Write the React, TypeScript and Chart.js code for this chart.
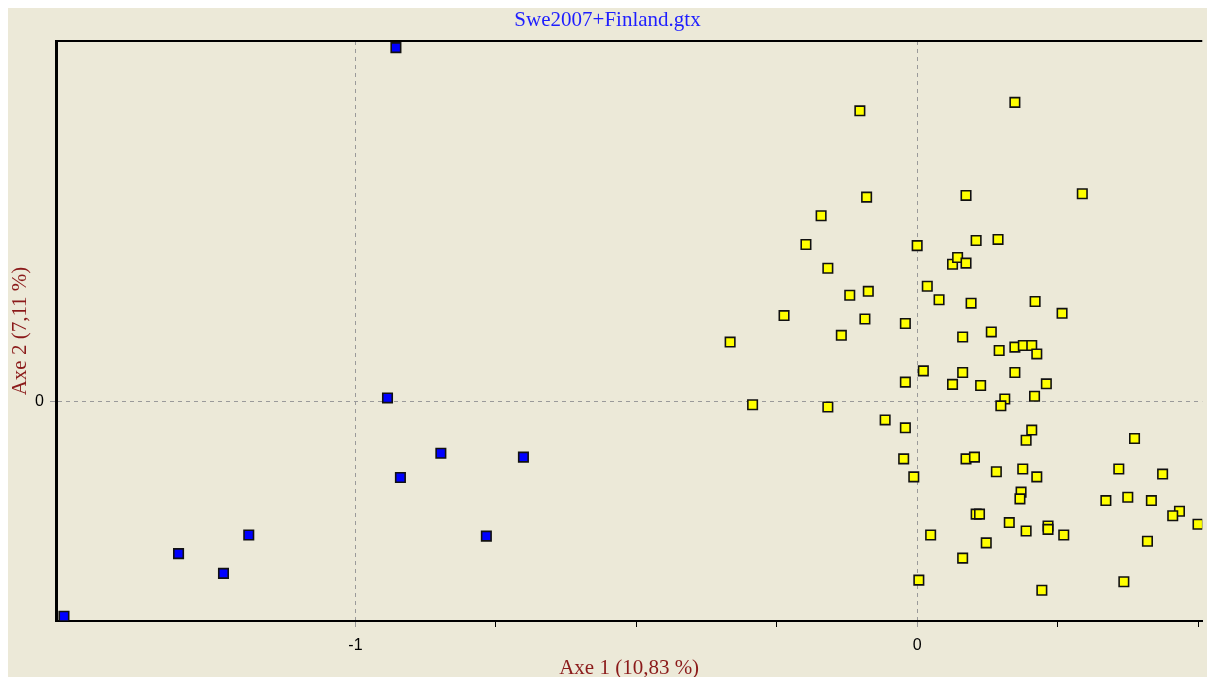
import React, { useEffect, useRef } from "react";
import { Chart, registerables } from "chart.js";

Chart.register(...registerables);

const chartTitle = "Swe2007+Finland.gtx";
const xAxisTitle = "Axe 1 (10,83 %)";
const yAxisTitle = "Axe 2 (7,11 %)";

const xTickValues = [-1, -0.75, -0.5, -0.25, 0, 0.25, 0.5];
const yTickValues = [0];

const xRange = [-1.5332, 0.5076];
const yRange = [-0.3895, 0.6388];

const blueX = [-0.928, -0.943, -0.848, -0.701, -0.92, -0.767, -1.19, -1.315, -1.235, -1.519];
const blueY = [0.627, 0.006, -0.092, -0.099, -0.135, -0.239, -0.237, -0.27, -0.305, -0.381];

const yellowX = [
  -0.102, 0.174, -0.09, 0.087, 0.294, -0.171, -0.198, 0.0, 0.105, 0.144,
  0.063, 0.072, 0.087, -0.159, 0.018, -0.12, -0.087, 0.039, 0.096, 0.21,
  0.258, -0.237, -0.093, -0.021, 0.132, -0.135, 0.081, -0.333, 0.146, 0.174,
  0.189, 0.204, 0.213, 0.011, 0.081, 0.174, -0.021, 0.063, 0.113, 0.23,
  0.156, 0.149, 0.209, -0.057, -0.021, 0.204, 0.194, 0.387, -0.024, 0.087,
  0.102, 0.141, 0.188, 0.213, -0.006, 0.359, 0.437, 0.185, 0.183, 0.336,
  0.375, 0.417, 0.467, 0.455, 0.5, 0.105, 0.111, 0.164, 0.194, 0.233,
  0.233, 0.261, 0.024, 0.123, 0.41, 0.081, 0.003, 0.368, 0.222, -0.293,
  -0.159,
];
const yellowY = [
  0.515, 0.53, 0.362, 0.365, 0.368, 0.329, 0.278, 0.276, 0.285, 0.287,
  0.243, 0.255, 0.245, 0.236, 0.204, 0.188, 0.195, 0.18, 0.174, 0.177,
  0.156, 0.152, 0.146, 0.138, 0.123, 0.117, 0.114, 0.105, 0.09, 0.096,
  0.099, 0.099, 0.084, 0.054, 0.051, 0.051, 0.034, 0.03, 0.028, 0.031,
  0.004, -0.008, 0.009, -0.033, -0.047, -0.051, -0.069, -0.066, -0.102, -0.102,
  -0.099, -0.125, -0.12, -0.134, -0.134, -0.12, -0.129, -0.161, -0.173, -0.176,
  -0.17, -0.176, -0.195, -0.203, -0.218, -0.2, -0.2, -0.215, -0.23, -0.221,
  -0.227, -0.237, -0.237, -0.251, -0.248, -0.278, -0.317, -0.32, -0.335, -0.006,
  -0.01,
];

const BG = "#ECE9D8";
const GRID = "#9a9a9a";
const AXIS_TITLE_COLOR = "#8B1A1A";
const SERIF = "'Liberation Serif', 'Times New Roman', serif";
const SANS = "'Liberation Sans Narrow', 'Arial Narrow', 'Liberation Sans', sans-serif";

const topBorder = {
  id: "topBorder",
  afterDraw(chart: any) {
    const { ctx, chartArea } = chart;
    ctx.save();
    ctx.strokeStyle = "#000";
    ctx.lineWidth = 2;
    ctx.beginPath();
    ctx.moveTo(chartArea.left - 1, chartArea.top);
    ctx.lineTo(chartArea.right, chartArea.top);
    ctx.stroke();
    ctx.restore();
  },
};

export default function App() {
  const ref = useRef<HTMLCanvasElement | null>(null);

  useEffect(() => {
    document.body.style.overflow = "hidden";
    document.documentElement.style.overflow = "hidden";
    const canvas = ref.current;
    if (!canvas) return;
    const isInt = (v: number) => Math.abs(v - Math.round(v)) < 1e-9;

    const chart = new Chart(canvas, {
      type: "scatter",
      data: {
        datasets: [
          {
            label: "Finland",
            data: yellowX.map((x, i) => ({ x, y: yellowY[i] })),
            pointStyle: "rect",
            pointRadius: 6.7,
            pointHoverRadius: 6.7,
            backgroundColor: "#FFFF00",
            borderColor: "#111",
            borderWidth: 1.6,
          },
          {
            label: "Sweden",
            data: blueX.map((x, i) => ({ x, y: blueY[i] })),
            pointStyle: "rect",
            pointRadius: 6.7,
            pointHoverRadius: 6.7,
            backgroundColor: "#0000FF",
            borderColor: "#111",
            borderWidth: 1.6,
          },
        ],
      },
      options: {
        responsive: true,
        maintainAspectRatio: false,
        animation: false,
        devicePixelRatio: 1,
        layout: { padding: 0, autoPadding: false },
        plugins: {
          legend: { display: false },
          tooltip: { enabled: false },
          title: {
            display: true,
            text: chartTitle,
            color: "#1E1EFF",
            font: { family: SERIF, size: 21, weight: "normal", lineHeight: 1 },
            padding: { top: 2, bottom: 10 },
          },
        },
        scales: {
          x: {
            type: "linear",
            min: xRange[0],
            max: xRange[1],
            afterFit: (s: any) => {
              s.height = 56;
            },
            afterBuildTicks: (s: any) => {
              s.ticks = xTickValues.map((value) => ({ value }));
            },
            ticks: {
              autoSkip: false,
              maxRotation: 0,
              padding: 9,
              color: "#000",
              font: { family: SANS, size: 16 },
              callback: (v: any) => (isInt(Number(v)) ? String(v) : ""),
            },
            grid: {
              color: (c: any) => (c.tick && isInt(c.tick.value) ? GRID : "rgba(0,0,0,0)"),
              tickColor: (c: any) => (c.tick && isInt(c.tick.value) ? GRID : "#000"),
              lineWidth: 1,
              tickLength: 6,
              tickWidth: 1,
              tickBorderDash: [],
            },
            border: { display: true, color: "#000", width: 2, dash: [4, 4] },
            title: {
              display: true,
              text: xAxisTitle,
              color: AXIS_TITLE_COLOR,
              font: { family: SERIF, size: 21, lineHeight: 0.8 },
              padding: { top: 0, bottom: 0 },
            },
          },
          y: {
            type: "linear",
            min: yRange[0],
            max: yRange[1],
            afterFit: (s: any) => {
              s.width = 48;
            },
            afterBuildTicks: (s: any) => {
              s.ticks = yTickValues.map((value) => ({ value }));
            },
            ticks: {
              autoSkip: false,
              padding: 6,
              color: "#000",
              font: { family: SANS, size: 16 },
              callback: (v: any) => String(v),
            },
            grid: {
              color: GRID,
              tickColor: GRID,
              lineWidth: 1,
              tickLength: 6,
              tickBorderDash: [],
            },
            border: { display: true, color: "#000", width: 3, dash: [4, 4] },
            title: {
              display: true,
              text: yAxisTitle,
              color: AXIS_TITLE_COLOR,
              font: { family: SERIF, size: 21, lineHeight: 1 },
              padding: { top: 2, bottom: 0 },
            },
          },
        },
      },
      plugins: [topBorder],
    } as any);

    return () => chart.destroy();
  }, []);

  return (
    <div
      style={{
        position: "fixed",
        left: 8,
        top: 8,
        right: 0,
        bottom: 0,
        background: BG,
        overflow: "hidden",
      }}
    >
      <canvas ref={ref} style={{ display: "block" }} />
    </div>
  );
}
